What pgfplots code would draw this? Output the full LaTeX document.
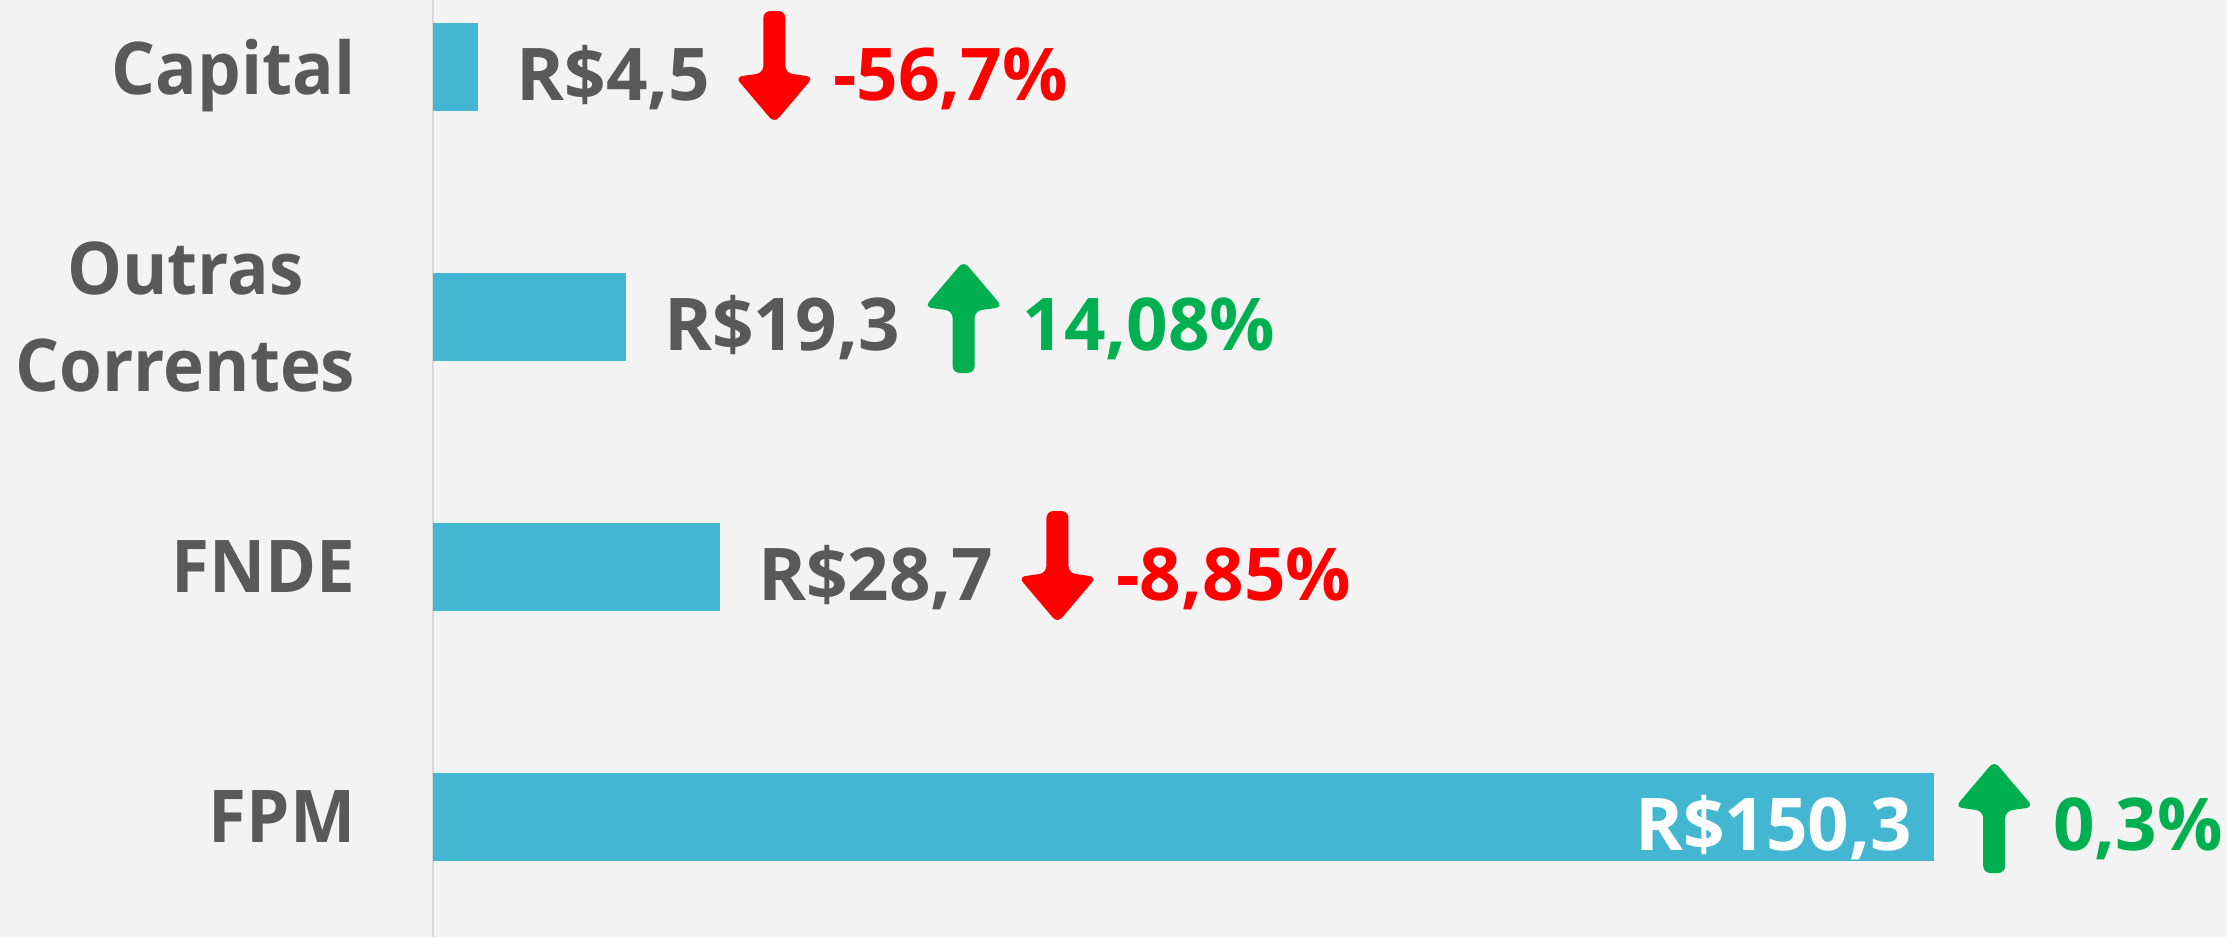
\documentclass[border=0pt]{standalone}
\usepackage{pgfplots}
\pgfplotsset{compat=1.18}
\usepackage{fontspec}
\setmainfont{Open Sans}
\newfontfamily\ylabfont{Open Sans}[FakeStretch=0.95]
\usetikzlibrary{backgrounds}

\definecolor{barcol}{RGB}{67,183,209}
\definecolor{lblgray}{RGB}{89,89,89}
\definecolor{upgreen}{RGB}{0,176,80}
\definecolor{downred}{RGB}{255,0,0}
\definecolor{bgcol}{RGB}{243,243,243}
\definecolor{axgray}{RGB}{217,217,217}

\newcommand\bigfont{\fontsize{20.7}{27.6}\selectfont\bfseries}
\newsavebox\downarr
\newsavebox\uparr
% value, arrow box, change, colour of change
\newcommand\lbl[4]{\textcolor{lblgray}{#1}\hspace{2.5mm}\usebox{#2}\hspace{2mm}\textcolor{#4}{#3}}

\begin{document}%
\sbox\downarr{\tikz[baseline={([yshift=-3.3mm]current bounding box.center)}]
  \fill[downred, rounded corners=0.7mm] (-1.1mm,0) -- (-1.1mm,-6.2mm) -- (-3.9mm,-6.6mm)
    -- (0,-11.2mm) -- (3.9mm,-6.6mm) -- (1.1mm,-6.2mm) -- (1.1mm,0) -- cycle;}%
\sbox\uparr{\tikz[baseline={([yshift=-3.3mm]current bounding box.center)}]
  \fill[upgreen, rounded corners=0.7mm] (-1.1mm,0) -- (-1.1mm,6.2mm) -- (-3.9mm,6.6mm)
    -- (0,11.2mm) -- (3.9mm,6.6mm) -- (1.1mm,6.2mm) -- (1.1mm,0) -- cycle;}%
\begin{tikzpicture}
\begin{axis}[
  scale only axis,
  width=179.4mm, height=93.7mm,
  xbar, bar width=8.8mm,
  xmin=0, xmax=179.7,
  ymin=-0.48, ymax=3.268,
  enlargelimits=false,
  clip=false,
  axis x line=none,
  axis y line=left,
  y axis line style={-, draw=axgray, line width=0.6pt},
  xtick=\empty,
  ytick={0,1,2,3},
  yticklabels={FPM, FNDE, {Outras\\Correntes}, \raisebox{0pt}[\height][0pt]{Capital}},
  ytick style={draw=none},
  major tick length=0pt,
  yticklabel style={font=\ylabfont\bigfont, text=lblgray, align=center, anchor=east, inner sep=0pt, xshift=-7.7mm},
  mybar/.style={fill=barcol, draw=none, bar shift=0pt},
  outlbl/.style={every node near coord/.append style={anchor=west, xshift=3.8mm}},
  every node near coord/.append style={inner sep=0pt, font=\bigfont},
]
\addplot[mybar, outlbl, nodes near coords={\lbl{R\$4,5}{\downarr}{-56,7\%}{downred}}] coordinates {(4.5,3)};
\addplot[mybar, outlbl, nodes near coords={\lbl{R\$19,3}{\uparr}{14,08\%}{upgreen}}] coordinates {(19.3,2)};
\addplot[mybar, outlbl, nodes near coords={\lbl{R\$28,7}{\downarr}{-8,85\%}{downred}}] coordinates {(28.7,1)};
\addplot[mybar, nodes near coords={\textcolor{white}{R\$150,3}\rule[-2.4mm]{0pt}{11.4mm}},
  every node near coord/.append style={anchor=east, xshift=-2.1mm}] coordinates {(150.3,0)};
\addplot[mybar, fill=none, nodes near coords={\usebox{\uparr}\hspace{2mm}\textcolor{upgreen}{0,3\%}},
  every node near coord/.append style={anchor=west, xshift=2.1mm}] coordinates {(150.3,0)};
\end{axis}
\begin{pgfonlayer}{background}
\fill[bgcol] ([xshift=-43.3mm]current axis.south west) rectangle (current axis.north east);
\end{pgfonlayer}
\pgfresetboundingbox
\path[use as bounding box] ([xshift=-43.3mm]current axis.south west) rectangle (current axis.north east);
\end{tikzpicture}%
\end{document}
